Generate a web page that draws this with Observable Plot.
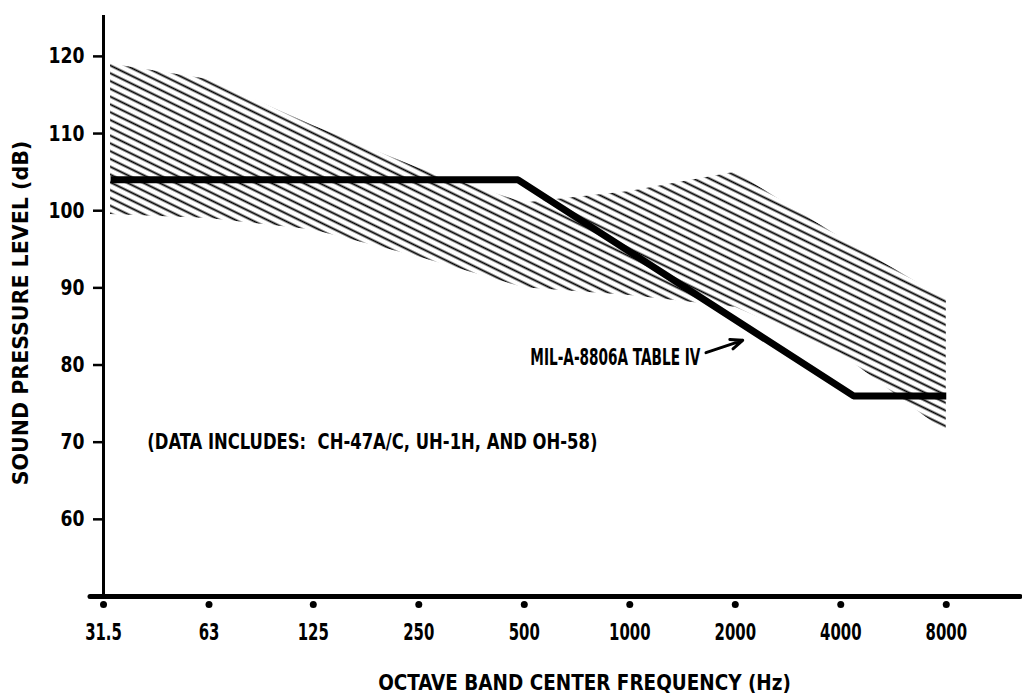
<!DOCTYPE html>
<html>
<head>
<meta charset="utf-8">
<script src="https://cdn.jsdelivr.net/npm/d3@7"></script>
<script src="https://cdn.jsdelivr.net/npm/@observablehq/plot@0.6"></script>
<style>
  html, body { margin: 0; padding: 0; background: #fff; }
  #chart svg { display: block; }
</style>
</head>
<body>
<div id="chart"></div>
<script>
// ---- data ----
const freqTicks = [31.5, 63, 125, 250, 500, 1000, 2000, 4000, 8000];
const freqLabels = ["31.5", "63", "125", "250", "500", "1000", "2000", "4000", "8000"];
const dbTicks = [60, 70, 80, 90, 100, 110, 120];

// hatched envelope of measured helicopter noise
const bandFreq  = [33, 63, 125, 250, 500, 1000, 2000, 4000, 8000];
const bandUpper = [119, 117, 111, 105.5, 101, 102.5, 105, 96.5, 88.5];
const bandLower = [99.5, 99, 97.5, 94, 90, 89, 87.5, 81.5, 71.3];

// MIL-A-8806A Table IV limit
const milFreq = [33, 480, 4350, 8000];
const milDb   = [104, 104, 76, 76];

// annotations
const milLabel = ["MIL-A-8806A TABLE IV"];
const milLabelPos = [1590, 81];
const arrowFrom = [1650, 81.6];
const arrowTo   = [2100, 83.2];
const noteText = ["(DATA INCLUDES:\u00a0\u00a0CH-47A/C, UH-1H, AND OH-58)"];
const notePos = [42, 70];
const xTitle = "OCTAVE BAND CENTER FREQUENCY (Hz)";
const yTitle = "SOUND PRESSURE LEVEL (dB)";

const band = bandFreq.map((f, i) => ({f, hi: bandUpper[i], lo: bandLower[i]}));
const mil = milFreq.map((f, i) => ({f, db: milDb[i]}));

const FONT = "'DejaVu Sans Condensed', 'DejaVu Sans', sans-serif";

const chart = Plot.plot({
  width: 1022,
  height: 697,
  marginLeft: 90,
  marginRight: 2,
  marginTop: 15,
  marginBottom: 101,
  x: {type: "log", base: 2, domain: [28.92, 13029], axis: null},
  y: {domain: [50, 125.3], axis: null},
  style: {fontFamily: FONT, background: "#fff", color: "#000"},
  marks: [
    Plot.areaY(band, {x: "f", y1: "lo", y2: "hi", fill: "url(#hatch)", curve: "linear"}),
    Plot.line(mil, {x: "f", y: "db", stroke: "#000", strokeWidth: 7,
                    strokeLinejoin: "miter", strokeLinecap: "butt"}),
    Plot.ruleX([31.5], {stroke: "#000", strokeWidth: 3}),
    Plot.ruleY([50], {stroke: "#000", strokeWidth: 5, strokeLinecap: "round"}),
    Plot.axisY({ticks: dbTicks, anchor: "left", tickSize: 10, tickPadding: 9, dx: 13,
                strokeWidth: 2.5, fontSize: 22, fontWeight: "bold", label: null,
                tickFormat: d => String(d)}),
    Plot.dot(freqTicks, {x: d => d, y: () => 50, dy: 8, r: 3.5, fill: "#000", stroke: null}),
    Plot.axisX({ticks: freqTicks, tickSize: 0, tickPadding: 27, fontSize: 23, fontWeight: "bold",
                label: null, tickFormat: d => freqLabels[freqTicks.indexOf(d)]}),
    Plot.text([xTitle], {frameAnchor: "bottom", dx: 29, dy: 93, fontSize: 22, fontWeight: "bold",
                         fill: "#000"}),
    Plot.text([yTitle], {frameAnchor: "left", textAnchor: "middle", rotate: -90, dx: -70, dy: 7,
                         fontSize: 22, fontWeight: "bold", fill: "#000"}),
    Plot.text(milLabel, {x: () => milLabelPos[0], y: () => milLabelPos[1], textAnchor: "end",
                         fontSize: 23, fontWeight: "bold", fill: "#000"}),
    Plot.arrow([0], {x1: () => arrowFrom[0], y1: () => arrowFrom[1], x2: () => arrowTo[0], y2: () => arrowTo[1],
                     stroke: "#000", strokeWidth: 3, headLength: 14, headAngle: 45}),
    Plot.text(noteText, {x: () => notePos[0], y: () => notePos[1], textAnchor: "start",
                         fontSize: 22, fontWeight: "bold", fill: "#000"})
  ]
});

// hatch pattern for the envelope
const defs = d3.select(chart).insert("defs", ":first-child");
const pat = defs.append("pattern")
  .attr("id", "hatch")
  .attr("patternUnits", "userSpaceOnUse")
  .attr("width", 14)
  .attr("height", 7)
  .attr("patternTransform", "rotate(26)");
pat.append("line")
  .attr("x1", 0).attr("x2", 14).attr("y1", 3.5).attr("y2", 3.5)
  .attr("stroke", "#000").attr("stroke-width", 1.9);

// condense the lettering (the original uses a tall, narrow typeface)
const squeeze = (t) => {
  if (t === xTitle) return 0.93;
  if (t === yTitle) return 1.04;
  if (t === milLabel[0]) return 0.66;
  if (t === noteText[0]) return 0.83;
  if (dbTicks.map(String).includes(t)) return 0.87;
  if (freqLabels.includes(t)) return 0.72;
  return 1;
};
d3.select(chart).selectAll("text").each(function() {
  const s = squeeze(this.textContent);
  if (s === 1) return;
  const tr = this.getAttribute("transform");
  if (tr) {
    this.setAttribute("transform", tr + ` scale(${s},1)`);
  } else {
    const x = +this.getAttribute("x") || 0, y = +this.getAttribute("y") || 0;
    this.setAttribute("transform", `translate(${x},${y}) scale(${s},1) translate(${-x},${-y})`);
  }
});

document.getElementById("chart").appendChild(chart);
</script>
</body>
</html>
